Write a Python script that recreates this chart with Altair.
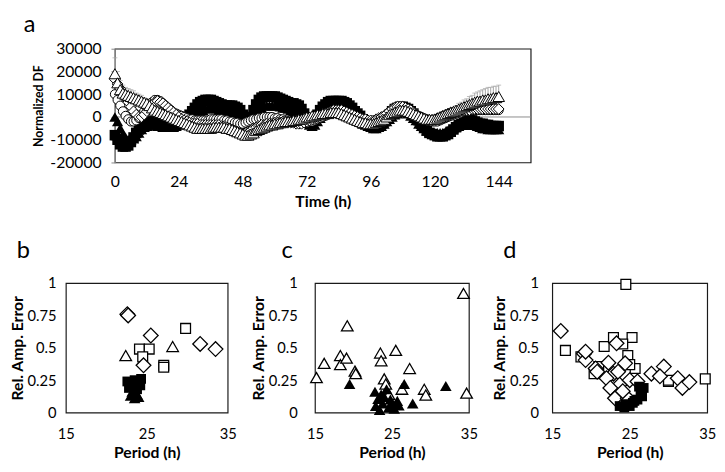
import altair as alt
import pandas as pd

FONT = "Lato"

# ---------------- panel a: time courses (values in thousands) ----------------
hours = list(range(145))

black_sq = [
    -8, -10, -12, -13, -13, -12.5, -11, -9, -7, -5.5, -4, -3,
    -2.5, -2, -2, -2, -2.5, -3, -3, -3.5, -3.5, -3.5, -3.5, -3,
    -2.5, -2, -1, 0, 1, 2.5, 4, 5.5, 6.5, 7, 7.5, 7.5,
    7.5, 7, 6.5, 6, 5.5, 5, 5, 5, 5, 4.5, 4, 3,
    1, -0.5, -1.5, 0, 3, 5.5, 7.5, 8.5, 9, 9, 9, 9,
    9, 8.5, 8, 7.5, 7, 6.5, 6, 6, 5.5, 5, 3.5, 1.5,
    -0.5, -2, -2, -1, 1, 3, 4.5, 5.5, 6.5, 7, 7, 7,
    7, 7, 6.5, 6, 5, 4, 2.5, 1.5, 0.5, -1, -2, -3,
    -3.5, -4, -4, -3.5, -3, -2, -0.5, 1, 2.5, 3.5, 4, 4.5,
    4.5, 4, 3.5, 2.5, 1.5, 0, -1.5, -3, -4.5, -6, -7, -7.5,
    -8, -8.5, -8.5, -8.5, -8, -7.5, -6.5, -5.5, -4.5, -3.5, -3, -2.5,
    -2, -1.5, -1.5, -2, -2.5, -3, -3, -3.5, -3.5, -4, -4, -4,
    -4,
]

black_tri = [
    0, -2, -5, -7.5, -9, -10, -10, -9.5, -8.5, -7, -5.5, -4.5,
    -4, -3.5, -3.5, -3.5, -4, -4, -4.5, -4.5, -4.5, -4.5, -4.5, -4,
    -3.5, -3, -2.5, -2, -1, 0, 1, 2, 2.5, 3, 3.5, 4,
    4, 4, 3.5, 3, 3, 2.5, 2.5, 2, 1.5, 1, 0, -1,
    -2, -3, -3, -2.5, -1, 1, 2.5, 4, 5, 5, 5, 5,
    5, 5, 4.5, 4, 4, 3.5, 3, 2.5, 2, 1, 0, -1,
    -2.5, -3.5, -4, -3.5, -2, -0.5, 1, 2, 3, 3.5, 4, 4,
    4, 4, 3.5, 3, 2, 1, 0, -1, -2, -3, -3.5, -4,
    -4.5, -5, -5, -4.5, -4, -3, -2, -1, 0, 1, 1.5, 2,
    2, 2, 1.5, 0.5, -0.5, -1.5, -3, -4, -5, -6, -6.5, -7,
    -7, -7, -7, -7, -6.5, -6, -5.5, -5, -4.5, -4, -3.5, -3.5,
    -3.5, -3.5, -3.5, -3.5, -4, -4.5, -5, -5, -5.5, -5.5, -5.5, -5.5,
    -5.5,
]

white_circ = [
    10, 7.5, 5, 2.5, 0.5, -1, -2, -2, -1.5, -0.5, 1, 2.5,
    4, 5.5, 6.5, 7.5, 7.5, 7, 6, 5, 4, 3, 2, 1.5,
    1, 0.5, 0, -0.5, -1, -1, -1.5, -1.5, -1.5, -1.5, -1.5, -1.5,
    -1, -1, -1, -1, -1, -1.5, -1.5, -2, -2, -2.5, -2.5, -3,
    -3, -2.5, -2, -1.5, -1, -1, -0.5, -0.5, 0, 0, 0, 0,
    -0.5, -0.5, -1, -1, -1.5, -1.5, -2, -2, -2.5, -2.5, -2.5, -2.5,
    -2.5, -2, -2, -1.5, -1, -0.5, 0, 0.5, 1, 1.5, 2, 2.5,
    2.5, 2.5, 2, 1.5, 1, 0.5, 0, -0.5, -1, -1.5, -2, -2,
    -2.5, -2.5, -2, -1.5, -1, 0, 0.5, 1.5, 2, 2.5, 3, 3.5,
    3.5, 3.5, 3, 2.5, 2, 1, 0.5, 0, -0.5, -1, -1.5, -2,
    -2, -2, -1.5, -1, -0.5, 0, 0.5, 1, 1.5, 2, 2, 2.5,
    2.5, 3, 3, 3, 3, 3, 3, 3, 3, 3, 3, 3,
    3,
]

white_dia = [
    16.5, 14.5, 12.5, 10.5, 8.5, 6.5, 4.5, 2.5, 1, 0, 0, 1,
    2.5, 4, 5.5, 6.5, 7, 6.5, 6, 5, 4, 3, 2, 1,
    0, -1, -1.5, -2, -2.5, -3, -3, -3, -3.5, -3.5, -3.5, -3.5,
    -3.5, -3.5, -3.5, -3.5, -4, -4, -4.5, -5, -5.5, -6, -6.5, -7,
    -7.5, -7, -6.5, -6, -5, -4.5, -4, -3.5, -3.5, -3, -3, -3,
    -2.5, -2.5, -2.5, -2, -2, -2, -2.5, -2.5, -3, -3, -3, -2.5,
    -2, -1.5, -1, -0.5, 0, 0.5, 1, 1.5, 2, 2.5, 3, 3,
    3, 3, 2.5, 2, 1.5, 1, 0.5, 0, -0.5, -1, -1, -1.5,
    -1.5, -1.5, -1, -0.5, 0, 0.5, 1.5, 2.5, 3.5, 4, 4.5, 4.5,
    4.5, 4, 3.5, 3, 2, 1, 0, -0.5, -1, -1.5, -1.5, -1.5,
    -1, -0.5, 0, 0.5, 1, 1.5, 2, 2, 2.5, 2.5, 3, 3,
    3, 3, 3.5, 3.5, 3.5, 3.5, 3.5, 3.5, 3.5, 3.5, 3.5, 3.5,
    3.5,
]

white_tri = [
    19, 15, 12, 10.5, 10, 9.5, 9, 8.5, 8, 7.5, 7, 6.5,
    6, 5, 4, 3, 2.5, 2, 1.5, 1, 0.5, 0, -0.5, -1,
    -1.5, -2, -2.5, -3, -3.5, -4, -4.5, -5, -5, -5, -5, -5,
    -5, -4.5, -4.5, -4.5, -4.5, -4.5, -5, -5, -5.5, -6, -6.5, -7,
    -7.5, -8, -8, -7.5, -7, -6, -5.5, -5, -4.5, -4, -3.5, -3.5,
    -3, -3, -2.5, -2.5, -2, -2, -2, -1.5, -1.5, -1, -1, -0.5,
    0, 0, 0.5, 0.5, 1, 1, 1.5, 1.5, 1.5, 2, 2, 2,
    2, 1.5, 1, 0.5, 0, -0.5, -1, -1.5, -2, -2.5, -2.5, -3,
    -3, -3, -2.5, -2, -1.5, -1, 0, 1, 1.5, 2, 2.5, 3,
    3, 3, 2.5, 2, 1.5, 1, 0.5, 0, -0.5, -1, -1, -1,
    -1, -0.5, 0, 0.5, 1, 1.5, 2, 2.5, 3, 3.5, 4, 4.5,
    5, 5.5, 6, 6.5, 7, 7, 7.5, 7.5, 8, 8, 8.5, 8.5,
    9,
]

white_tri_err = [
    7, 5, 4, 3.5, 3, 3, 3, 3, 2.5, 2.5, 2.5, 2,
    2, 2, 2, 2, 2, 2, 2, 2, 2, 2, 2, 2,
    2, 2, 2, 2, 2, 2, 2, 1.5, 1.5, 1.5, 1.5, 1.5,
    1.5, 1.5, 1.5, 1.5, 1.5, 1.5, 1.5, 1.5, 1.5, 1.5, 1.5, 1.5,
    1.5, 1.5, 1.5, 1.5, 1.5, 1.5, 1.5, 1.5, 1.5, 1.5, 1.5, 1.5,
    1.5, 1.5, 1.5, 1.5, 1.5, 1.5, 1.5, 1.5, 1.5, 1.5, 1.5, 1.5,
    1.5, 1.5, 1.5, 1.5, 1.5, 1.5, 1.5, 1.5, 1.5, 1.5, 1.5, 1.5,
    1.5, 1.5, 1.5, 1.5, 1.5, 1.5, 1.5, 1.5, 1.5, 1.5, 1.5, 1.5,
    1.5, 1.5, 1.5, 1.5, 1.5, 1.5, 1.5, 1.5, 1.5, 1.5, 1.5, 1.5,
    1.5, 1.5, 1.5, 1.5, 1.5, 1.5, 1.5, 1.5, 1.5, 1.5, 1.5, 1.5,
    1.5, 1.5, 1.5, 1.5, 1.5, 1.5, 1.5, 1.5, 2, 2.5, 2.5, 3,
    3, 3.5, 3.5, 4, 4, 4.5, 4.5, 5, 5, 5, 5, 5,
    5,
]

time_ticks = [0, 24, 48, 72, 96, 120, 144]
df_ticks = [-20000, -10000, 0, 10000, 20000, 30000]

# ---------------- panels b, c, d: period vs relative amplitude error ----------------
b_wdia_p = [22.6, 22.7, 25.5, 24.6, 31.6, 33.5]
b_wdia_r = [0.76, 0.75, 0.595, 0.365, 0.53, 0.49]
b_wsq_p = [24.1, 25.3, 24.5, 29.8, 27.1, 27.1]
b_wsq_r = [0.49, 0.49, 0.43, 0.65, 0.365, 0.35]
b_wtri_p = [22.4, 28.2]
b_wtri_r = [0.44, 0.51]
b_bsq_p = [22.6, 23.0, 23.5, 24.0, 24.3, 23.3, 23.8, 24.2, 22.8]
b_bsq_r = [0.24, 0.22, 0.25, 0.24, 0.26, 0.2, 0.18, 0.21, 0.19]
b_btri_p = [23.0, 23.5, 24.0, 23.2, 23.8]
b_btri_r = [0.13, 0.11, 0.12, 0.16, 0.14]

c_wtri_p = [15.2, 16.2, 18.3, 18.3, 19.1, 19.2, 20.2, 20.3, 23.5, 23.6, 25.5, 24.0,
            24.2, 27.3, 26.3, 29.2, 29.4, 34.3, 34.7, 24.6]
c_wtri_r = [0.27, 0.38, 0.44, 0.37, 0.42, 0.67, 0.32, 0.30, 0.46, 0.40, 0.48, 0.26,
            0.22, 0.34, 0.18, 0.18, 0.135, 0.92, 0.15, 0.14]
c_btri_p = [19.5, 26.6, 32.0, 27.7, 22.8, 23.2, 23.8, 24.6, 25.3, 25.7, 22.9, 24.0,
            24.8, 23.4, 24.3, 25.9, 23.6, 25.0]
c_btri_r = [0.22, 0.22, 0.205, 0.07, 0.16, 0.105, 0.07, 0.04, 0.03, 0.09, 0.05, 0.12,
            0.10, 0.02, 0.18, 0.055, 0.14, 0.07]

d_wsq_p = [24.5, 16.7, 21.7, 22.9, 25.3, 24.1, 24.75, 25.7, 20.4, 30.0, 34.75, 18.7,
           21.0, 25.0, 30.0]
d_wsq_r = [0.99, 0.48, 0.51, 0.58, 0.58, 0.53, 0.44, 0.34, 0.30, 0.24, 0.26, 0.43,
           0.355, 0.37, 0.25]
d_wdia_p = [16.1, 19.1, 19.3, 20.6, 20.8, 22.25, 23.3, 24.4, 22.9, 22.0, 23.5, 23.7,
            25.0, 22.5, 26.0, 23.1, 24.75, 24.1, 27.8, 29.4, 28.9, 31.2, 31.8, 32.7, 19.3]
d_wdia_r = [0.63, 0.455, 0.405, 0.34, 0.315, 0.385, 0.535, 0.38, 0.30, 0.265, 0.315, 0.215,
            0.25, 0.19, 0.24, 0.11, 0.11, 0.165, 0.30, 0.355, 0.28, 0.265, 0.19, 0.235, 0.47]
d_bsq_p = [26.4, 26.6, 26.0, 25.4, 24.5, 23.7, 26.2, 25.0, 24.3, 26.8, 25.6]
d_bsq_r = [0.165, 0.125, 0.10, 0.075, 0.065, 0.05, 0.2, 0.05, 0.04, 0.19, 0.09]

period_ticks = [15, 25, 35]
rae_ticks = [0, 0.25, 0.5, 0.75, 1]


# ---------------- build panel a ----------------
def ts_df(vals):
    return pd.DataFrame({"t": hours, "v": [x * 1000 for x in vals]})


x_axis_a = alt.Axis(values=time_ticks, title="Time (h)", grid=False, domain=False,
                    ticks=False, tickSize=0, labelPadding=12, titlePadding=4,
                    labelFontSize=16, titleFontSize=16, labelFlush=False,
                    labelOverlap=False)
y_axis_a = alt.Axis(values=df_ticks, title="Normalized DF", grid=False,
                    domainColor="#888", tickColor="#888", tickSize=4,
                    labelPadding=10, titlePadding=4, labelFontSize=16,
                    titleFontSize=12.5, labelExpr="'' + datum.value",
                    labelOverlap=False, labelFlush=False)
x_scale_a = alt.Scale(domain=[0, 156], nice=False, zero=False)
y_scale_a = alt.Scale(domain=[-20000, 30000], nice=False)

xa = alt.X("t:Q", scale=x_scale_a, axis=x_axis_a, title="Time (h)")
ya = alt.Y("v:Q", scale=y_scale_a, axis=y_axis_a, title="Normalized DF")
ya_top = alt.Y("top:Q", scale=y_scale_a, axis=y_axis_a, title="Normalized DF")

zero_line = alt.Chart(pd.DataFrame({"v": [0]})).mark_rule(color="#8c8c8c", strokeWidth=1).encode(y=ya)

err_df = pd.DataFrame({"t": hours, "v": [x * 1000 for x in white_tri],
                       "top": [(a + e) * 1000 for a, e in zip(white_tri, white_tri_err)]})
err_bars = alt.Chart(err_df).mark_rule(color="#a6a6a6", strokeWidth=1).encode(x=xa, y=ya, y2="top:Q")
err_caps = alt.Chart(err_df).mark_tick(color="#a6a6a6", thickness=1, size=5, orient="horizontal").encode(
    x=xa, y=ya_top)

pt_black_tri = alt.Chart(ts_df(black_tri)).mark_point(
    shape="triangle-up", filled=True, color="black", size=130, opacity=1).encode(x=xa, y=ya)
pt_black_sq = alt.Chart(ts_df(black_sq)).mark_point(
    shape="square", filled=True, color="black", size=115, opacity=1).encode(x=xa, y=ya)
pt_white_circ = alt.Chart(ts_df(white_circ)).mark_point(
    shape="circle", filled=True, fill="white", stroke="black", strokeWidth=1, size=85,
    opacity=1).encode(x=xa, y=ya)
pt_white_dia = alt.Chart(ts_df(white_dia)).mark_point(
    shape="diamond", filled=True, fill="white", stroke="black", strokeWidth=1, size=120,
    opacity=1).encode(x=xa, y=ya)
pt_white_tri = alt.Chart(ts_df(white_tri)).mark_point(
    shape="triangle-up", filled=True, fill="white", stroke="black", strokeWidth=1, size=140,
    opacity=1).encode(x=xa, y=ya)

panel_a = alt.layer(
    zero_line, err_bars, err_caps, pt_black_tri, pt_black_sq, pt_white_circ, pt_white_dia, pt_white_tri
).properties(
    width=424, height=116,
    title=alt.TitleParams("a", anchor="start", frame="group", dx=-93, offset=4),
)

spacer = alt.Chart(pd.DataFrame({"s": [0]})).mark_point(opacity=0).encode(
    x=alt.value(0), y=alt.value(0)
).properties(width=50, height=20, view=alt.ViewBackground(stroke="transparent"))


# ---------------- build scatter panels ----------------
def sc_df(p, r):
    return pd.DataFrame({"p": p, "r": r})


def scatter(label, layers, width, dx, lp):
    xs = alt.X("p:Q", scale=alt.Scale(domain=[15, 35], nice=False, zero=False),
               axis=alt.Axis(values=period_ticks, title="Period (h)", grid=False, domain=False,
                             ticks=False, tickSize=0, labelPadding=14, titlePadding=4,
                             labelFontSize=15, titleFontSize=16, labelFlush=False,
                             labelOverlap=False))
    ys = alt.Y("r:Q", scale=alt.Scale(domain=[0, 1], nice=False),
               axis=alt.Axis(values=rae_ticks, labelExpr="'' + datum.value",
                             title="Rel. Amp. Error", grid=False,
                             domain=False, ticks=False, tickSize=0, labelPadding=lp,
                             titlePadding=2, labelFontSize=15, titleFontSize=16,
                             labelFlush=False, labelOverlap=False))
    charts = []
    for kind, p, r in layers:
        if kind == "wdia":
            m = alt.Chart(sc_df(p, r)).mark_point(shape="diamond", filled=True, fill="white",
                                                  stroke="black", strokeWidth=1.3, size=225, opacity=1)
        elif kind == "wsq":
            m = alt.Chart(sc_df(p, r)).mark_point(shape="square", filled=True, fill="white",
                                                  stroke="black", strokeWidth=1.3, size=100, opacity=1)
        elif kind == "wtri":
            m = alt.Chart(sc_df(p, r)).mark_point(shape="triangle-up", filled=True, fill="white",
                                                  stroke="black", strokeWidth=1.3, size=140, opacity=1)
        elif kind == "bsq":
            m = alt.Chart(sc_df(p, r)).mark_point(shape="square", filled=True, color="black",
                                                  size=100, opacity=1)
        else:
            m = alt.Chart(sc_df(p, r)).mark_point(shape="triangle-up", filled=True, color="black",
                                                  size=140, opacity=1)
        charts.append(m.encode(x=xs, y=ys))
    return alt.layer(*charts).properties(
        width=width, height=132,
        title=alt.TitleParams(label, anchor="start", frame="group", dx=dx, offset=14),
    )


panel_b = scatter("b", [("bsq", b_bsq_p, b_bsq_r), ("btri", b_btri_p, b_btri_r),
                        ("wtri", b_wtri_p, b_wtri_r), ("wsq", b_wsq_p, b_wsq_r),
                        ("wdia", b_wdia_p, b_wdia_r)], 165, -50, 10)
panel_c = scatter("c", [("wtri", c_wtri_p, c_wtri_r), ("btri", c_btri_p, c_btri_r)], 157, -34, 18)
panel_d = scatter("d", [("wsq", d_wsq_p, d_wsq_r), ("wdia", d_wdia_p, d_wdia_r),
                        ("bsq", d_bsq_p, d_bsq_r)], 158, -50, 14)

top_row = alt.hconcat(spacer, panel_a, spacing=0, bounds="flush")
bottom_row = alt.hconcat(panel_b, panel_c, panel_d, spacing=12)

chart = alt.vconcat(top_row, bottom_row, spacing=28).properties(
    padding={"left": 0, "top": 0, "right": 0, "bottom": 0}
).configure_view(
    stroke="#1a1a1a", strokeWidth=1.2
).configure_axis(
    labelFont=FONT, titleFont=FONT, labelColor="#000", titleColor="#000",
    titleFontWeight="bold"
).configure_title(
    font=FONT, fontSize=24, fontWeight="normal", color="#000"
)

chart.save("out.html", embed_options={"renderer": "svg", "actions": False})
